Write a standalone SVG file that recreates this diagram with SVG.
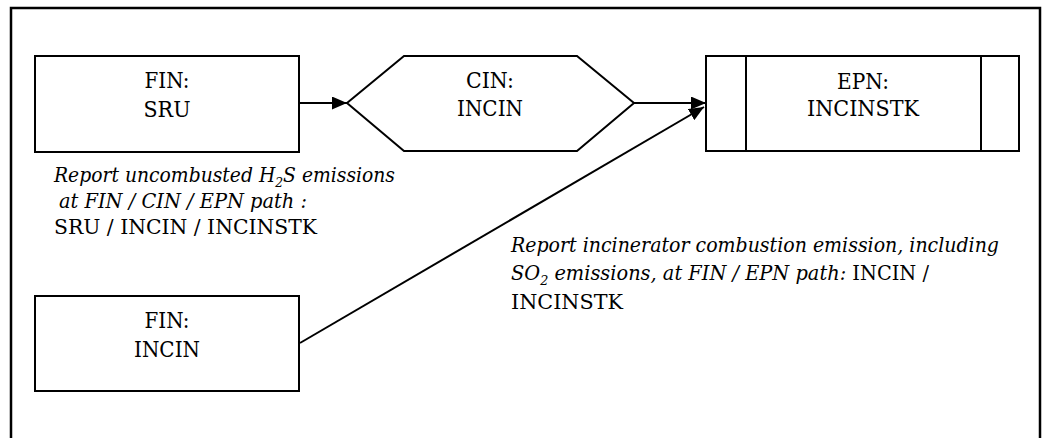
<svg xmlns="http://www.w3.org/2000/svg" width="1045" height="438" viewBox="0 0 1045 438">
<defs>
<style>
.box{fill:#fff;stroke:#000;stroke-width:2}
.t{font-family:"DejaVu Serif", serif;font-size:22px;fill:#000}
.n{font-size:20.5px}
.s{font-size:13.5px}
.c{text-anchor:middle}
.i{font-style:italic}
.ln{stroke:#000;stroke-width:2;fill:none}
</style>
<marker id="ah" viewBox="0 0 15 13" refX="15" refY="6.5" markerWidth="15" markerHeight="13" markerUnits="userSpaceOnUse" orient="auto">
<path d="M0,0 L15,6.5 L0,13 Z" fill="#000"/>
</marker>
</defs>
<rect width="1045" height="438" fill="#fff"/>
<rect x="11" y="8" width="1029" height="440" fill="none" stroke="#000" stroke-width="2.5"/>
<g id="connectors">
<line class="ln" x1="299" y1="103" x2="347" y2="103" marker-end="url(#ah)"/>
<line class="ln" x1="634" y1="103" x2="706" y2="103" marker-end="url(#ah)"/>
<line class="ln" x1="300" y1="343" x2="704" y2="107" marker-end="url(#ah)"/>
</g>
<g id="fin-sru">
<rect class="box" x="35" y="56" width="264" height="96"/>
<text class="t c" x="167" y="88" textLength="45" lengthAdjust="spacingAndGlyphs">FIN:</text>
<text class="t c" x="167" y="117" textLength="47" lengthAdjust="spacingAndGlyphs">SRU</text>
</g>
<g id="cin-incin">
<polygon class="box" points="347,103 404,56 577,56 634,103 577,151 404,151"/>
<text class="t c" x="490" y="88" textLength="48" lengthAdjust="spacingAndGlyphs">CIN:</text>
<text class="t c" x="490" y="116" textLength="66" lengthAdjust="spacingAndGlyphs">INCIN</text>
</g>
<g id="epn-incinstk">
<rect class="box" x="706" y="56" width="313" height="95"/>
<line class="ln" x1="746" y1="56" x2="746" y2="151"/>
<line class="ln" x1="981" y1="56" x2="981" y2="151"/>
<text class="t c" x="863" y="89" textLength="52" lengthAdjust="spacingAndGlyphs">EPN:</text>
<text class="t c" x="863" y="116" textLength="112" lengthAdjust="spacingAndGlyphs">INCINSTK</text>
</g>
<g id="fin-incin">
<rect class="box" x="35" y="296" width="264" height="95"/>
<text class="t c" x="167" y="328" textLength="45" lengthAdjust="spacingAndGlyphs">FIN:</text>
<text class="t c" x="167" y="357" textLength="66" lengthAdjust="spacingAndGlyphs">INCIN</text>
</g>
<g id="note-left">
<text class="t n i" x="54" y="182" textLength="341" lengthAdjust="spacingAndGlyphs">Report uncombusted H<tspan class="s" dy="5">2</tspan><tspan dy="-5">S emissions</tspan></text>
<text class="t n i" x="59" y="208" textLength="248" lengthAdjust="spacingAndGlyphs">at FIN / CIN / EPN path :</text>
<text class="t n" x="54" y="234" textLength="263" lengthAdjust="spacingAndGlyphs">SRU / INCIN / INCINSTK</text>
</g>
<g id="note-right">
<text class="t n i" x="511" y="252" textLength="488" lengthAdjust="spacingAndGlyphs">Report incinerator combustion emission, including</text>
<text class="t n" x="511" y="280" textLength="418" lengthAdjust="spacingAndGlyphs"><tspan class="i">SO</tspan><tspan class="i s" dy="5">2</tspan><tspan class="i" dy="-5"> emissions, at FIN / EPN path:</tspan> INCIN /</text>
<text class="t n" x="511" y="309" textLength="112" lengthAdjust="spacingAndGlyphs">INCINSTK</text>
</g>
</svg>
